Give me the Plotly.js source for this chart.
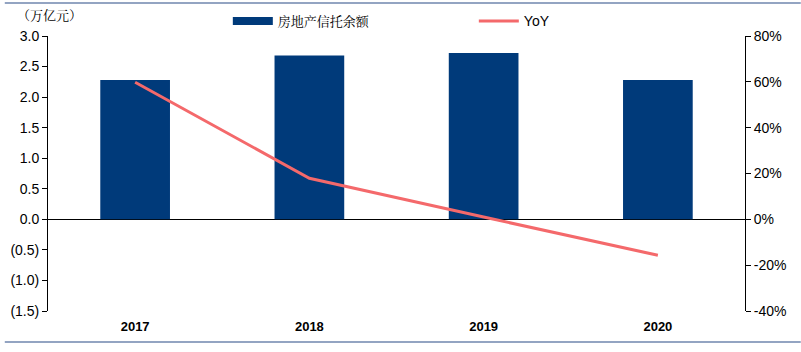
<!DOCTYPE html>
<html><head><meta charset="utf-8">
<script src="https://cdn.plot.ly/plotly-3.0.1.min.js"></script>
<style>body{margin:0;background:#fff}#c{width:801px;height:352px}</style>
</head><body><div id="c"></div>
<script>
const years = ['2017','2018','2019','2020'];
const balance = [2.28, 2.68, 2.72, 2.28];
const yoy = [59.8, 17.9, 1.0, -15.7];
const leftTicks = [3.0, 2.5, 2.0, 1.5, 1.0, 0.5, 0.0, -0.5, -1.0, -1.5];
const leftTickText = ['3.0','2.5','2.0','1.5','1.0','0.5','0.0','(0.5)','(1.0)','(1.5)'];
const rightTicks = [80, 60, 40, 20, 0, -20, -40];
const rightTickText = ['80%','60%','40%','20%','0%','-20%','-40%'];

const traces = [
  {type:'bar', x:years, y:balance, name:'房地产信托余额', marker:{color:'#003A7A'}, width:0.4, yaxis:'y', showlegend:false},
  {type:'scatter', mode:'lines', x:[null], y:[null], name:'房地产信托余额', line:{color:'#003A7A', width:8}, yaxis:'y', hoverinfo:'skip'},
  {type:'scatter', mode:'lines', x:years, y:yoy, name:'<span style="font-family:Liberation Sans, Arial;font-size:14px">YoY</span>', line:{color:'#F4696B', width:3}, yaxis:'y2'}
];
const layout = {
  width:801, height:352,
  margin:{l:48, r:56, t:36, b:41, autoexpand:false},
  paper_bgcolor:'#fff', plot_bgcolor:'#fff',
  font:{family:'Liberation Sans, Arial, sans-serif', size:14, color:'#000'},
  showlegend:true,
  legend:{orientation:'h', x:0.258, y:1.0, xref:'paper', yref:'paper', xanchor:'left', yanchor:'bottom',
          font:{size:13, family:'Noto Serif CJK SC, Noto Sans CJK SC, serif'}, itemwidth:40,
          traceorder:'normal', entrywidth:191, bgcolor:'rgba(0,0,0,0)'},
  xaxis:{type:'category', showline:false, showgrid:false, zeroline:false, ticks:'',
         tickfont:{size:13, family:'Liberation Sans, Arial', weight:'bold'}, ticklabelstandoff:6},
  yaxis:{range:[-1.5,3.0], tickvals:leftTicks, ticktext:leftTickText, showgrid:false,
         showline:true, linecolor:'#000', linewidth:1, ticks:'outside', ticklen:5, tickcolor:'#000',
         zeroline:true, zerolinecolor:'#000', zerolinewidth:1, tickfont:{size:14}},
  yaxis2:{range:[-40,80], tickvals:rightTicks, ticktext:rightTickText, overlaying:'y', side:'right',
          showgrid:false, showline:true, linecolor:'#000', linewidth:1, ticks:'outside', ticklen:5,
          tickcolor:'#000', zeroline:false, tickfont:{size:14}},
  annotations:[{text:'（万亿元）', xref:'paper', yref:'paper', x:-0.047, y:1.037, xanchor:'left', yanchor:'bottom',
                showarrow:false, font:{size:13, family:'Noto Serif CJK SC, Noto Sans CJK SC, serif'}}],
  shapes:[
    {type:'line', xref:'paper', yref:'paper', x0:-0.062, x1:1.08, y0:1.12, y1:1.12, line:{color:'#6F86AE', width:1.5}},
    {type:'line', xref:'paper', yref:'paper', x0:-0.062, x1:1.08, y0:-0.113, y1:-0.113, line:{color:'#6F86AE', width:1.5}}
  ]
};
Plotly.newPlot('c', traces, layout, {displayModeBar:false, staticPlot:true});
</script></body></html>
